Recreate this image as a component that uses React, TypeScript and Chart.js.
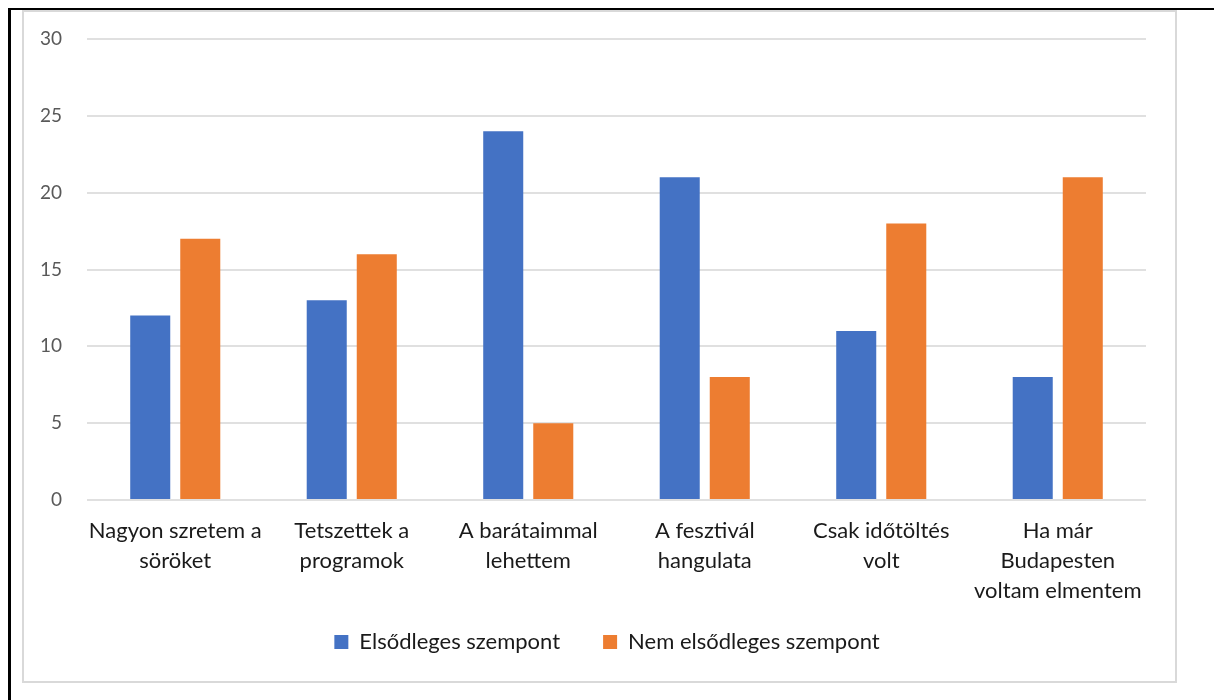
import React, { useEffect, useRef } from "react";
import { Chart, registerables } from "chart.js";

Chart.register(...registerables);

const categories: (string | string[])[] = [
  ["Nagyon szretem a", "söröket"],
  ["Tetszettek a", "programok"],
  ["A barátaimmal", "lehettem"],
  ["A fesztivál", "hangulata"],
  ["Csak időtöltés", "volt"],
  ["Ha már", "Budapesten", "voltam elmentem"],
];
const primaryLabel = "Elsődleges szempont";
const secondaryLabel = "Nem elsődleges szempont";
const primaryValues = [12, 13, 24, 21, 11, 8];
const secondaryValues = [17, 16, 5, 8, 18, 21];

const FONT = "Lato, 'Open Sans', sans-serif";

export default function App() {
  const canvasRef = useRef<HTMLCanvasElement | null>(null);

  useEffect(() => {
    const canvas = canvasRef.current;
    if (!canvas) return;
    const chart = new Chart(canvas, {
      type: "bar",
      data: {
        labels: categories,
        datasets: [
          {
            label: primaryLabel,
            data: primaryValues,
            backgroundColor: "#4472C4",
            categoryPercentage: 0.567,
            barPercentage: 0.8,
          },
          {
            label: secondaryLabel,
            data: secondaryValues,
            backgroundColor: "#ED7D31",
            categoryPercentage: 0.567,
            barPercentage: 0.8,
          },
        ],
      },
      options: {
        responsive: false,
        animation: false,
        layout: { padding: { left: 0, top: 39, right: 0, bottom: 37 } },
        plugins: {
          tooltip: { enabled: false },
          legend: {
            position: "bottom",
            labels: {
              boxWidth: 14,
              boxHeight: 14,
              padding: 43,
              color: "#1a1a1a",
              font: { family: FONT, size: 22 },
            },
          },
        },
        scales: {
          x: {
            grid: { display: false, drawTicks: false },
            border: { display: false },
            ticks: {
              color: "#1a1a1a",
              padding: 16,
              maxRotation: 0,
              autoSkip: false,
              font: { family: FONT, size: 22, lineHeight: 30 / 22 },
            },
            afterFit: (scale: any) => {
              scale.height = 88;
              // let the three-line category label run past the axis box
              scale._computeLabelArea = () => undefined;
            },
          },
          y: {
            min: 0,
            max: 30,
            grid: { color: "#e0e0e0", lineWidth: 2, drawTicks: false },
            border: { display: false },
            ticks: {
              stepSize: 5,
              color: "#595959",
              padding: 25,
              font: { family: FONT, size: 19 },
            },
            afterFit: (scale: any) => {
              scale.width = 87;
            },
          },
          // empty right-hand gutter so the legend centres on the whole frame
          gutter: {
            type: "linear",
            position: "right",
            display: true,
            grid: { display: false, drawTicks: false },
            border: { display: false },
            ticks: { display: false },
            afterFit: (scale: any) => {
              scale.width = 68;
            },
          },
        },
      },
    });
    return () => chart.destroy();
  }, []);

  return (
    <div style={{ position: "absolute", left: 0, top: 0, width: 1214, height: 700, overflow: "hidden", background: "#fff" }}>
      <div style={{ position: "absolute", left: 8, top: 8, width: 1206, height: 2, background: "#000" }} />
      <div style={{ position: "absolute", left: 8, top: 8, width: 3, height: 692, background: "#000" }} />
      <div
        style={{
          position: "absolute",
          left: 22,
          top: 10,
          width: 1151,
          height: 669,
          border: "2px solid #d9d9d9",
        }}
      />
      <canvas ref={canvasRef} width={1214} height={700} style={{ position: "absolute", left: 0, top: 0, display: "block" }} />
    </div>
  );
}
